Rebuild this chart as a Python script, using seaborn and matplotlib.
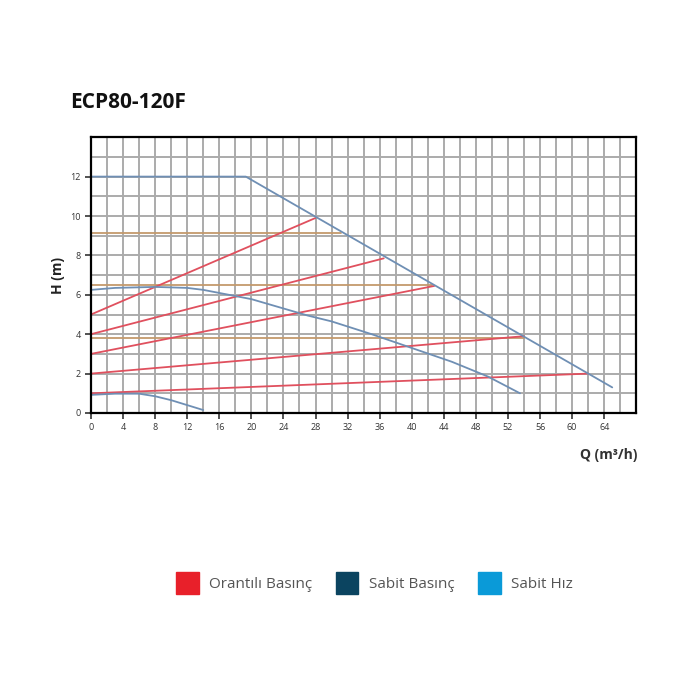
import matplotlib.pyplot as plt
import matplotlib.patches as mpatches
import seaborn as sns
import pandas as pd

# max speed curve
max_q = [0, 19.3, 65]
max_h = [12, 12, 1.3]
# middle speed curve
mid_q = [0, 3, 8, 12, 14, 20, 27, 30, 35, 40, 45, 49.5, 53.5]
mid_h = [6.25, 6.35, 6.4, 6.35, 6.25, 5.78, 4.95, 4.65, 4.0, 3.3, 2.6, 1.85, 1.0]
# low speed curve
low_q = [0, 3, 6, 8, 10, 12, 14]
low_h = [0.92, 0.98, 0.98, 0.85, 0.65, 0.4, 0.15]

# proportional pressure lines (start H, end Q, end H)
prop_h0 = [5, 4, 3, 2, 1]
prop_q1 = [28, 36.5, 42.8, 54, 62]
prop_h1 = [9.9, 7.85, 6.45, 3.9, 2.0]

# constant pressure lines
const_h = [9.13, 6.5, 3.8]
const_q1 = [31.2, 42.5, 54]

sns.set_theme(style="white")
plt.rcParams['font.family'] = ['Open Sans', 'DejaVu Sans']

fig = plt.figure(figsize=(7, 7), dpi=100)
ax = fig.add_axes([0.13, 0.41, 0.779, 0.394])

ax.set_xlim(0, 68)
ax.set_ylim(0, 14)
ax.set_xticks(range(0, 68, 2), minor=True)
ax.set_yticks(range(0, 15, 1), minor=True)
ax.set_xticks(range(0, 65, 4))
ax.set_yticks(range(0, 13, 2))
ax.grid(True, which='both', color='#ababab', linewidth=1.4)
ax.set_axisbelow(True)

blue = '#6f8fb4'
red = '#e0505e'
tan = '#c49a6c'

for h, q in zip(const_h, const_q1):
    df = pd.DataFrame({'q': [0, q], 'h': [h, h]})
    sns.lineplot(data=df, x='q', y='h', ax=ax, color=tan, linewidth=1.3)

for h0, q1, h1 in zip(prop_h0, prop_q1, prop_h1):
    df = pd.DataFrame({'q': [0, q1], 'h': [h0, h1]})
    sns.lineplot(data=df, x='q', y='h', ax=ax, color=red, linewidth=1.3)

for qs, hs in [(max_q, max_h), (mid_q, mid_h), (low_q, low_h)]:
    df = pd.DataFrame({'q': qs, 'h': hs})
    sns.lineplot(data=df, x='q', y='h', ax=ax, color=blue, linewidth=1.3,
                 sort=False, estimator=None)

for s in ax.spines.values():
    s.set_color('black')
    s.set_linewidth(1.6)
ax.tick_params(axis='both', which='major', labelsize=6.5, colors='#333333',
               length=4, width=1.2, direction='out', bottom=True, left=True)
ax.tick_params(axis='both', which='minor', length=0)
ax.set_xlabel('')
ax.set_ylabel('H (m)', fontsize=10, fontweight='bold', color='#222222')

fig.text(0.1, 0.845, 'ECP80-120F', fontsize=15, fontweight='bold', color='#111111')
fig.text(0.91, 0.345, 'Q (m³/h)', fontsize=10, fontweight='bold',
         color='#333333', ha='right')

handles = [mpatches.Patch(color='#e8202a', label='Orantılı Basınç'),
           mpatches.Patch(color='#0b4460', label='Sabit Basınç'),
           mpatches.Patch(color='#0a9ad8', label='Sabit Hız')]
fig.legend(handles=handles, loc='center', bbox_to_anchor=(0.535, 0.167),
           ncol=3, frameon=False, fontsize=11, handlelength=1.5,
           handleheight=1.9, columnspacing=1.5, handletextpad=0.7,
           labelcolor='#555555')

plt.savefig('out.png', dpi=100)
